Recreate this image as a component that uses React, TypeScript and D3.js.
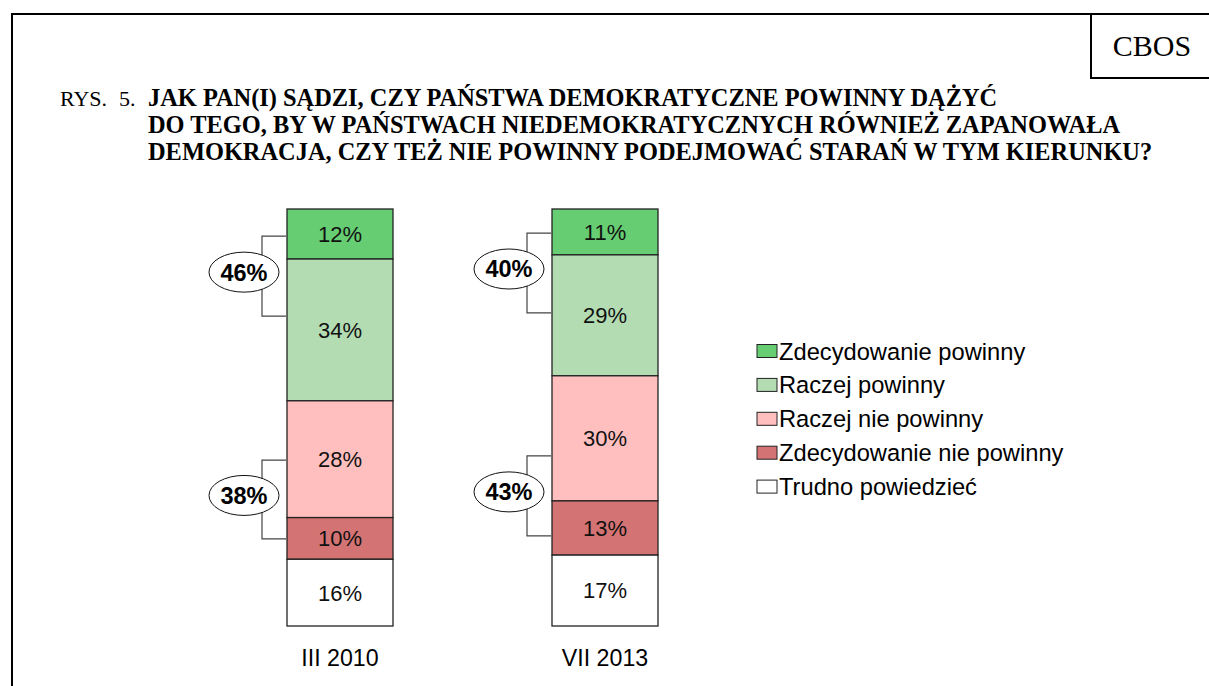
import React, { useEffect, useRef } from "react";
import * as d3 from "d3";

// survey waves
const waves = ["III 2010", "VII 2013"];
// answer categories (stack order, top to bottom)
const answers = [
  "Zdecydowanie powinny",
  "Raczej powinny",
  "Raczej nie powinny",
  "Zdecydowanie nie powinny",
  "Trudno powiedzieć",
];
const answerColors = ["#66cd72", "#b3dcb3", "#ffbfbf", "#d47373", "#ffffff"];
// values per wave, same order as answers
const values2010 = [12, 34, 28, 10, 16];
const values2013 = [11, 29, 30, 13, 17];
// grouped totals shown in the ovals
const totalsYes = [46, 40];
const totalsNo = [38, 43];
// bracket spans in percent units (from, to)
const bracketYes = [
  [6.5, 25.7],
  [5.8, 24.9],
];
const bracketNo = [
  [60.2, 79.1],
  [59.2, 78.4],
];

const titleLines = [
  "JAK PAN(I) SĄDZI, CZY PAŃSTWA DEMOKRATYCZNE POWINNY DĄŻYĆ",
  "DO TEGO, BY W PAŃSTWACH NIEDEMOKRATYCZNYCH RÓWNIEŻ ZAPANOWAŁA",
  "DEMOKRACJA, CZY TEŻ NIE POWINNY PODEJMOWAĆ STARAŃ W TYM KIERUNKU?",
];

const W = 1209;
const H = 686;

const App = () => {
  const ref = useRef<SVGSVGElement | null>(null);

  useEffect(() => {
    if (!ref.current) return;
    const svg = d3.select(ref.current);
    svg.selectAll("*").remove();

    const sans = "Liberation Sans, Arial, sans-serif";
    const serif = "Liberation Serif, Times New Roman, serif";

    // page frame
    svg
      .append("path")
      .attr("d", `M12,${H} L12,14 L${W},14`)
      .attr("fill", "none")
      .attr("stroke", "#000")
      .attr("stroke-width", 2);
    svg
      .append("path")
      .attr("d", `M1091,14 L1091,78 L${W},78`)
      .attr("fill", "none")
      .attr("stroke", "#000")
      .attr("stroke-width", 2);
    svg
      .append("text")
      .attr("x", 1152)
      .attr("y", 56)
      .attr("text-anchor", "middle")
      .attr("font-family", serif)
      .attr("font-size", 30)
      .text("CBOS");

    // title
    svg
      .append("text")
      .attr("x", 60)
      .attr("y", 106)
      .attr("font-family", serif)
      .attr("font-size", 22)
      .text("RYS.");
    svg
      .append("text")
      .attr("x", 119)
      .attr("y", 106)
      .attr("font-family", serif)
      .attr("font-size", 22)
      .text("5.");
    svg
      .selectAll("text.title")
      .data(titleLines)
      .enter()
      .append("text")
      .attr("class", "title")
      .attr("x", 148)
      .attr("y", (d, i) => 106 + i * 27)
      .attr("font-family", serif)
      .attr("font-weight", "bold")
      .attr("font-size", 24.4)
      .text((d) => d);

    // scales
    const x = d3.scaleBand().domain(waves).range([287, 658]).paddingInner(0.6).paddingOuter(0);
    const y = d3.scaleLinear().domain([0, 100]).range([209, 626]);

    const table = waves.map((w, i) => {
      const vals = i === 0 ? values2010 : values2013;
      const row: any = { wave: w };
      answers.forEach((a, j) => (row[a] = vals[j]));
      return row;
    });
    const stack = d3.stack().keys(answers)(table);

    const g = svg.append("g");
    stack.forEach((layer, j) => {
      const lg = g.append("g");
      lg.selectAll("rect")
        .data(layer)
        .enter()
        .append("rect")
        .attr("x", (d: any) => x(d.data.wave)!)
        .attr("y", (d) => y(d[0]))
        .attr("width", x.bandwidth())
        .attr("height", (d) => y(d[1]) - y(d[0]))
        .attr("fill", answerColors[j])
        .attr("stroke", "#222")
        .attr("stroke-width", 1.3);
      lg.selectAll("text")
        .data(layer)
        .enter()
        .append("text")
        .attr("x", (d: any) => x(d.data.wave)! + x.bandwidth() / 2)
        .attr("y", (d) => (y(d[0]) + y(d[1])) / 2)
        .attr("dy", "0.36em")
        .attr("text-anchor", "middle")
        .attr("font-family", sans)
        .attr("font-size", 22)
        .attr("fill", "#111")
        .text((d) => `${d[1] - d[0]}%`);
    });

    // wave labels
    svg
      .selectAll("text.wave")
      .data(waves)
      .enter()
      .append("text")
      .attr("class", "wave")
      .attr("x", (d) => x(d)! + x.bandwidth() / 2)
      .attr("y", 666)
      .attr("text-anchor", "middle")
      .attr("font-family", sans)
      .attr("font-size", 23.2)
      .text((d) => d);

    // brackets with oval totals
    const drawBracket = (wi: number, span: number[], total: number) => {
      const x1 = x(waves[wi])! - 1;
      const x0 = x1 - 24;
      const y0 = y(span[0]);
      const y1 = y(span[1]);
      svg
        .append("path")
        .attr("d", `M${x1},${y0} H${x0} V${y1} H${x1}`)
        .attr("fill", "none")
        .attr("stroke", "#444")
        .attr("stroke-width", 1.2);
      const cx = x0 - 18;
      const cy = (y0 + y1) / 2 - 4;
      svg
        .append("ellipse")
        .attr("cx", cx)
        .attr("cy", cy)
        .attr("rx", 35)
        .attr("ry", 20)
        .attr("fill", "#fff")
        .attr("stroke", "#111")
        .attr("stroke-width", 1);
      svg
        .append("text")
        .attr("x", cx)
        .attr("y", cy)
        .attr("dy", "0.36em")
        .attr("text-anchor", "middle")
        .attr("font-family", sans)
        .attr("font-weight", "bold")
        .attr("font-size", 23.5)
        .text(`${total}%`);
    };
    waves.forEach((w, i) => {
      drawBracket(i, bracketYes[i], totalsYes[i]);
      drawBracket(i, bracketNo[i], totalsNo[i]);
    });

    // legend
    const leg = svg.append("g").attr("transform", "translate(757,351)");
    const item = leg
      .selectAll("g")
      .data(answers)
      .enter()
      .append("g")
      .attr("transform", (d, i) => `translate(0,${i * 33.9})`);
    item
      .append("rect")
      .attr("x", 0)
      .attr("y", -6.5)
      .attr("width", 20)
      .attr("height", 13)
      .attr("fill", (d, i) => answerColors[i])
      .attr("stroke", "#222")
      .attr("stroke-width", 1);
    item
      .append("text")
      .attr("x", 22)
      .attr("y", 0)
      .attr("dy", "0.36em")
      .attr("font-family", sans)
      .attr("font-size", 23.7)
      .text((d) => d);
  }, []);

  return (
    <svg
      ref={ref}
      width={W}
      height={H}
      style={{ position: "absolute", left: 0, top: 0, background: "#fff" }}
    />
  );
};

export default App;
